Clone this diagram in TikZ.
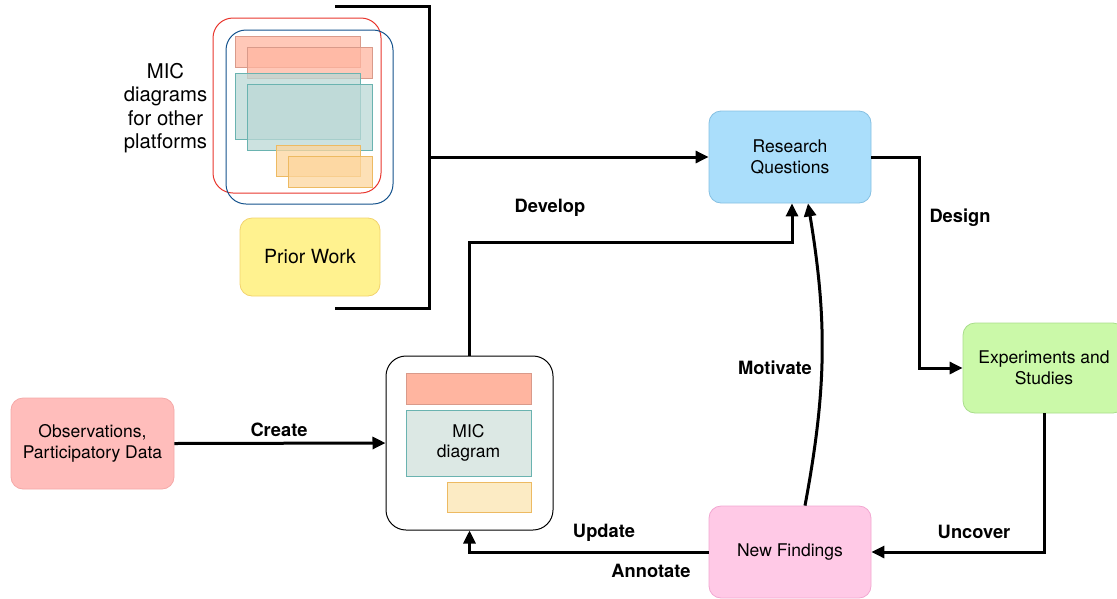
\documentclass[tikz,border=0pt]{standalone}
\usepackage{fontspec}
\setmainfont{TeX Gyre Heros}
\usetikzlibrary{arrows.meta,positioning}
\definecolor{rqfill}{HTML}{AADEFB}
\definecolor{rqline}{HTML}{86C0E2}
\definecolor{exfill}{HTML}{CBF9A9}
\definecolor{exline}{HTML}{A9DD8C}
\definecolor{obfill}{HTML}{FFBDBB}
\definecolor{obline}{HTML}{F5A9A8}
\definecolor{nffill}{HTML}{FFC9E6}
\definecolor{nfline}{HTML}{F2A7D1}
\definecolor{pwfill}{HTML}{FFF28F}
\definecolor{pwline}{HTML}{F2D36E}
\definecolor{snipsalmon}{HTML}{FFB5A0}
\definecolor{snipsalmonline}{HTML}{D99A8A}
\definecolor{snipteal}{HTML}{DCE8E4}
\definecolor{siptealline}{HTML}{6AB3B0}
\definecolor{snipyellow}{HTML}{FCEBC4}
\definecolor{snipyellowline}{HTML}{EDBA62}
\definecolor{otherred}{HTML}{E8352C}
\definecolor{otherblue}{HTML}{14528C}
\begin{document}
\begin{tikzpicture}[x=1pt, y=-1pt]
\tikzset{stage/.style={shape=rectangle, rounded corners=12pt, line width=0.8pt, align=center, inner sep=0pt, minimum width=162pt, minimum height=92pt, font=\fontsize{17.5}{21}\selectfont}}
\tikzset{snip/.style={shape=rectangle, draw=#1, line width=0.8pt, inner sep=0pt}}
\tikzset{ltflow/.style={-{Triangle[length=13pt, width=12pt]}, line width=3pt}}
\tikzset{ltverb/.style={font=\bfseries\fontsize{18.3}{20}\selectfont}}
\useasboundingbox (0,0) rectangle (1117,598);
% prior work: diagrams for other platforms
\draw[otherred, rounded corners=20pt, line width=1pt] (213,18) rectangle (381,193);
\draw[otherblue, rounded corners=20pt, line width=1pt] (226,30) rectangle (393,204);
\begin{scope}[fill opacity=0.75]
\draw[snipsalmonline, fill=snipsalmon, line width=0.8pt] (235,36) rectangle (360,67);
\draw[snipsalmonline, fill=snipsalmon, line width=0.8pt] (247,47) rectangle (372,78);
\draw[siptealline, fill=snipteal!85!teal, line width=0.8pt] (235,73) rectangle (360,139);
\draw[siptealline, fill=snipteal!85!teal, line width=0.8pt] (247,84) rectangle (372,150);
\draw[snipyellowline, fill=snipyellow!80!orange, line width=0.8pt] (276,145) rectangle (360,176);
\draw[snipyellowline, fill=snipyellow!80!orange, line width=0.8pt] (288,156) rectangle (372,187);
\end{scope}
\node (other) [align=center, font=\fontsize{20.3}{23.3}\selectfont] at (165.5,108) {MIC\\diagrams\\for other\\platforms};
\node (prior) [stage, fill=pwfill, draw=pwline, minimum width=140pt, minimum height=78pt, font=\fontsize{19.5}{23}\selectfont] at (310,257) {Prior Work};
% bracket
\draw[line width=3pt] (335,6) -- (429,6) -- (429,308) -- (335,308);
\coordinate (brk) at (429,157);
% stages
\node (rq) [stage, fill=rqfill, draw=rqline] at (790,157) {Research\\Questions};
\node (exp) [stage, fill=exfill, draw=exline, minimum height=90pt] at (1044,368) {Experiments and\\Studies};
\node (nf) [stage, fill=nffill, draw=nfline] at (790,552) {New Findings};
\node (obs) [stage, fill=obfill, draw=obline, minimum width=163pt, minimum height=91pt] at (92.5,443.5) {Observations,\\Participatory Data};
% mic diagram
\node (mic) [shape=rectangle, draw, rounded corners=20pt, line width=1pt, minimum width=167pt, minimum height=174pt] at (469.5,443) {};
\node (micsalmon) [snip=snipsalmonline, fill=snipsalmon, minimum width=125pt, minimum height=31pt] at (468.5,388.5) {};
\node (micteal) [snip=siptealline, fill=snipteal, minimum width=125pt, minimum height=66pt, align=center, font=\fontsize{17.5}{20}\selectfont] at (468.5,443) {MIC\\diagram};
\node (micyellow) [snip=snipyellowline, fill=snipyellow, minimum width=84pt, minimum height=30pt] at (489,497) {};
% flows
\draw[ltflow] (brk) -- (rq.west);
\draw[ltflow] (rq.east) -- ++(48,0) |- (exp.west);
\draw[ltflow] (exp.south) |- (nf.east);
\draw[ltflow] (nf.west) -| (mic.south);
\draw[ltflow] (mic.north) -- ++(0,-113) -| ([xshift=2pt]rq.south);
\draw[ltflow] ([xshift=15pt]nf.north) to[bend right=10] ([xshift=18pt]rq.south);
\draw[ltflow] (obs.east) -- (mic.west);
% labels
\node (develop) [ltverb] at (550,208) {Develop};
\node (design) [ltverb] at (960,218) {Design};
\node (create) [ltverb] at (279,430) {Create};
\node (motivate) [ltverb] at (775,368) {Motivate};
\node (uncover) [ltverb] at (974,532) {Uncover};
\node (update) [ltverb] at (604,533) {Update};
\node (annotate) [ltverb] at (651,571) {Annotate};
\end{tikzpicture}
\end{document}
